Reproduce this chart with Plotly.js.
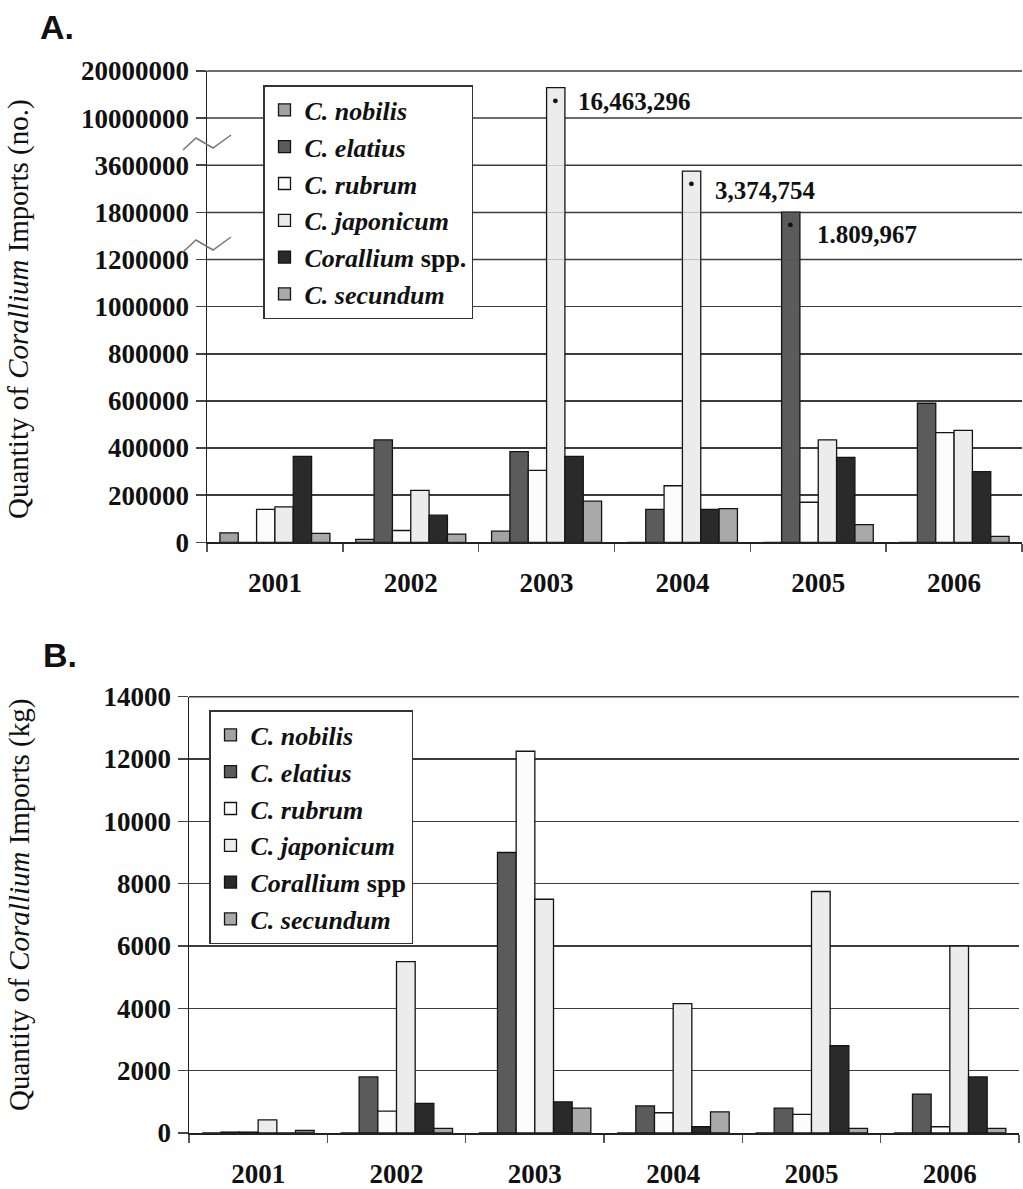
<!DOCTYPE html>
<html><head><meta charset="utf-8">
<script src="https://cdn.plot.ly/plotly-3.0.1.min.js"></script>
<style>html,body{margin:0;padding:0;background:#fff}#chart{width:1023px;height:1189px}</style>
</head><body><div id="chart"></div>
<script>
// ---------- DATA ----------
const years = ['2001', '2002', '2003', '2004', '2005', '2006'];
const speciesA = ['<i>C. nobilis</i>', '<i>C. elatius</i>', '<i>C. rubrum</i>', '<i>C. japonicum</i>', '<i>Corallium</i> spp.', '<i>C. secundum</i>'];
const speciesB = ['<i>C. nobilis</i>', '<i>C. elatius</i>', '<i>C. rubrum</i>', '<i>C. japonicum</i>', '<i>Corallium</i> spp', '<i>C. secundum</i>'];

// Panel A: quantity (no.)
const nobilisA   = [40000, 12000, 47000, 0, 0, 0];
const elatiusA   = [0, 435000, 385000, 140000, 1809967, 590000];
const rubrumA    = [140000, 50000, 305000, 240000, 170000, 465000];
const japonicumA = [150000, 220000, 16463296, 3374754, 435000, 475000];
const corSppA    = [365000, 115000, 365000, 140000, 360000, 300000];
const secundumA  = [38000, 35000, 175000, 143000, 75000, 25000];

// Panel B: quantity (kg)
const nobilisB   = [0, 0, 0, 0, 0, 0];
const elatiusB   = [30, 1800, 9000, 870, 800, 1250];
const rubrumB    = [30, 700, 12250, 650, 600, 200];
const japonicumB = [420, 5500, 7500, 4150, 7750, 6000];
const corSppB    = [0, 950, 1000, 200, 2800, 1800];
const secundumB  = [80, 150, 800, 680, 150, 150];

// Broken-axis segment limits (panel A) and tick values
const breaksA = [0, 1200000, 1800000, 3600000, 10000000, 20000000];
const ticksA1 = [0, 200000, 400000, 600000, 800000, 1000000, 1200000];
const ticksB  = [0, 2000, 4000, 6000, 8000, 10000, 12000, 14000];

// Labelled big values
const bigLabels = ['16,463,296', '3,374,754', '1.809,967'];

// ---------- STYLE / LAYOUT ----------
const W = 1023, H = 1189;
const px = p => p / W;
const py = p => 1 - p / H;
const colors = ['#a2a2a2', '#5b5b5b', '#fcfcfc', '#ececec', '#2a2a2a', '#a9a9a9'];
const serif = 'Liberation Serif, Times New Roman, serif';
const tickFont = {family: serif, size: 27, color: '#111', weight: 'bold'};
const gridC = '#3c3c3c';

const dataA = [nobilisA, elatiusA, rubrumA, japonicumA, corSppA, secundumA];
const dataB = [nobilisB, elatiusB, rubrumB, japonicumB, corSppB, secundumB];

// panel A pixel positions of segment boundaries (0 .. 20M)
const segPxA = [542.3, 259.5, 212.4, 165.2, 118.1, 71];
const yDomB = [1133, 696.7];
const xDomA = [207, 1022], xDomB = [189, 1019];

const traces = [];
for (let s = 0; s < 6; s++) {
  for (let k = 0; k < 5; k++) {
    traces.push({
      type: 'bar', x: years, y: dataA[s], name: speciesA[s],
      xaxis: 'x', yaxis: k === 0 ? 'y' : 'y' + (k + 1),
      marker: {color: colors[s], line: {color: '#141414', width: 1.3}},
      showlegend: k === 0, legend: 'legend', legendgroup: 'a' + s
    });
  }
}
for (let s = 0; s < 6; s++) {
  traces.push({
    type: 'bar', x: years, y: dataB[s], name: speciesB[s],
    xaxis: 'x2', yaxis: 'y6',
    marker: {color: colors[s], line: {color: '#141414', width: 1.3}},
    showlegend: true, legend: 'legend2', legendgroup: 'b' + s
  });
}

const xCommon = {
  type: 'category', categoryarray: years, range: [-0.5, 5.5], autorange: false,
  showline: true, linecolor: '#222', linewidth: 1.5,
  ticks: 'outside', tickson: 'boundaries', ticklen: 8, tickcolor: '#555', tickwidth: 1.5,
  tickfont: tickFont, tickangle: 0, ticklabelstandoff: 16, showgrid: false, zeroline: false, fixedrange: true
};
const yCommon = {
  showgrid: true, gridcolor: gridC, gridwidth: 1.5, showline: true, linecolor: '#222', linewidth: 1.5,
  ticks: 'outside', ticklen: 10, tickcolor: '#444', tickwidth: 1.5, tickfont: tickFont,
  zeroline: false, fixedrange: true, anchor: 'x', ticklabelstandoff: 1, autorange: false
};

const legendCommon = {xanchor: 'left', yanchor: 'top', bgcolor: '#fff', bordercolor: '#333',
  borderwidth: 1.5, font: {family: serif, size: 26, color: '#111', weight: 'bold'}, tracegroupgap: 0,
  traceorder: 'normal', itemwidth: 30};

const layout = {
  width: W, height: H, margin: {l: 0, r: 0, t: 0, b: 0},
  paper_bgcolor: '#fff', plot_bgcolor: 'rgba(0,0,0,0)',
  barmode: 'group', bargap: 0.19, bargroupgap: 0,
  font: {family: serif, color: '#111'},
  xaxis: Object.assign({}, xCommon, {domain: [px(xDomA[0]), px(xDomA[1])], anchor: 'y'}),
  xaxis2: Object.assign({}, xCommon, {domain: [px(xDomB[0]), px(xDomB[1])], anchor: 'y6'}),
  yaxis6: Object.assign({}, yCommon, {anchor: 'x2', domain: [py(yDomB[0]), py(yDomB[1])], range: [0, 14000],
    tickvals: ticksB, ticktext: ticksB.map(String)}),
  legend: Object.assign({}, legendCommon, {x: px(263), y: py(85)}),
  legend2: Object.assign({}, legendCommon, {x: px(209), y: py(710)}),
  annotations: [], shapes: []
};
const edgeGrid = (xd, pyv) => layout.shapes.push({type: 'line', layer: 'below', xref: 'paper', yref: 'paper',
  x0: px(xd[0]), x1: px(xd[1]), y0: py(pyv), y1: py(pyv), line: {color: gridC, width: 1.5}});
for (let k = 0; k < 5; k++) {
  const key = k === 0 ? 'yaxis' : 'yaxis' + (k + 1);
  const tv = k === 0 ? ticksA1 : [breaksA[k + 1]];
  layout[key] = Object.assign({}, yCommon, {
    domain: [py(segPxA[k]), py(segPxA[k + 1])], range: [breaksA[k], breaksA[k + 1]],
    tickvals: tv, ticktext: tv.map(String)
  });
  // grid line on the top edge of each segment (Plotly drops grid lines lying on a domain edge)
  edgeGrid(xDomA, segPxA[k + 1]);
}
edgeGrid(xDomB, yDomB[1]);

const ann = (o) => layout.annotations.push(Object.assign({showarrow: false, xanchor: 'center', yanchor: 'middle'}, o));
// panel letters
ann({xref: 'paper', yref: 'paper', x: px(57), y: py(27), text: '<b>A.</b>',
  font: {family: 'Liberation Sans, Arial, sans-serif', size: 34, color: '#111'}});
ann({xref: 'paper', yref: 'paper', x: px(60), y: py(655), text: '<b>B.</b>',
  font: {family: 'Liberation Sans, Arial, sans-serif', size: 34, color: '#111'}});
// y titles
ann({xref: 'paper', yref: 'paper', x: px(19), y: py(309), textangle: -90,
  text: 'Quantity of <i>Corallium</i> Imports (no.)', font: {family: serif, size: 29, color: '#111'}});
ann({xref: 'paper', yref: 'paper', x: px(19), y: py(905), textangle: -90,
  text: 'Quantity of <i>Corallium</i> Imports (kg)', font: {family: serif, size: 29, color: '#111'}});

// big value labels with dots (panel A)
const labelPos = [[576, 102], [713, 190], [815, 234]];
const dotRefs = [[3, 2, 'y5', japonicumA[2]], [3, 3, 'y3', japonicumA[3]], [1, 4, 'y3', elatiusA[4]]];
const g = layout.bargap;
dotRefs.forEach((d, i) => {
  const [s, yr, yref, val] = d;
  const off = -(1 - g) / 2 + (s + 0.5) * (1 - g) / 6;   // offset of the bar centre in category units
  ann({xref: 'x', yref: yref, x: yr + off, y: val, yshift: -12,
    text: '●', font: {size: 11, color: '#111'}});
  ann({xref: 'paper', yref: 'paper', x: px(labelPos[i][0]), y: py(labelPos[i][1]),
    xanchor: 'left', text: '<b>' + bigLabels[i] + '</b>',
    font: {family: serif, size: 25, color: '#111'}});
});

// axis break marks
const zig = pts => 'M' + pts.map(p => px(p[0]) + ',' + py(p[1])).join(' L');
[[[183, 150], [196, 138], [213, 148], [231, 135]], [[183, 252], [196, 240], [213, 250], [231, 237]]].forEach(p => {
  layout.shapes.push({type: 'path', xref: 'paper', yref: 'paper', path: zig(p), line: {color: '#777', width: 1.5}});
});

Plotly.newPlot('chart', traces, layout, {staticPlot: true});
</script>
</body></html>
